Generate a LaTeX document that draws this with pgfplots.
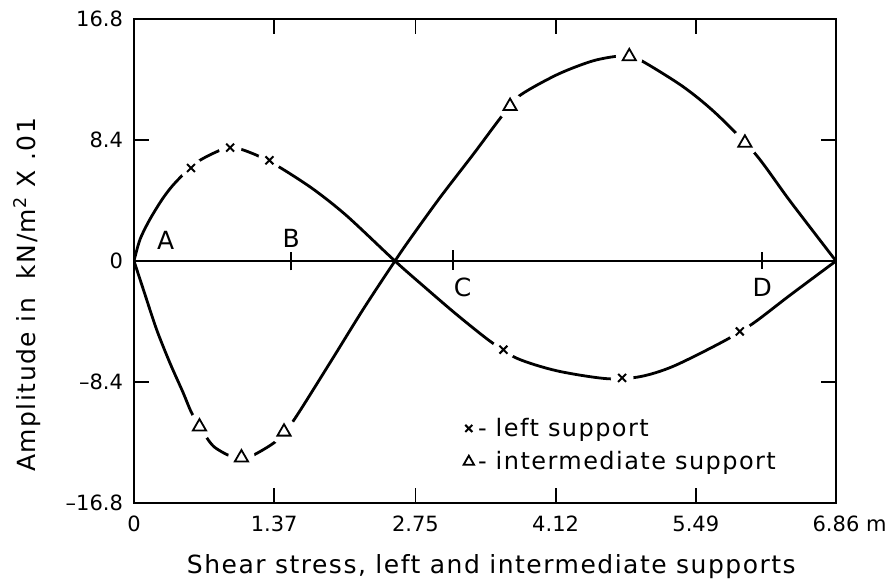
\documentclass[border=0pt]{standalone}
\usepackage{fontspec}
\setmainfont{DejaVu Sans}
\newfontfamily\spaced{DejaVu Sans}[LetterSpace=6]
\usepackage{pgfplots}
\pgfplotsset{compat=1.18}

\newcommand\tickfont{\fontsize{10.5}{12}\selectfont}
\newcommand\lblfont{\spaced\fontsize{12.5}{14}\selectfont}
\newcommand\legfont{\spaced\fontsize{12}{14}\selectfont}

\begin{document}
\begin{tikzpicture}
\begin{axis}[
  scale only axis, width=351pt, height=242pt,
  xmin=0, xmax=6.86, ymin=-16.8, ymax=16.8,
  axis line style={line width=0.9pt},
  every tick/.style={black, line width=0.9pt},
  major tick length=7.5pt, tick align=inside,
  xtick={0,1.37,2.75,4.12,5.49,6.86},
  xticklabels={0,1.37,2.75,4.12,5.49,{6.86\rlap{\ m}}},
  ytick={-16.8,-8.4,0,8.4,16.8},
  yticklabels={--16.8,--8.4,0,8.4,16.8},
  ticklabel style={font=\tickfont},
  xticklabel style={yshift=-3pt},
  yticklabel style={xshift=-2pt},
  xlabel={Shear stress, left and intermediate supports},
  ylabel={Amplitude in\ \ kN/m\textsuperscript{2} X .01},
  xlabel style={at={(axis description cs:0.509,-0.132)}, anchor=center, font=\lblfont},
  ylabel style={at={(axis description cs:-0.152,0.43)}, anchor=center, font=\lblfont},
  legend style={draw=none, fill=none, at={(axis description cs:0.469,0.185)},
    anchor=north west, font=\legfont, row sep=2pt, inner sep=0pt,
    /tikz/every even column/.append style={column sep=1pt}},
  legend cell align=left,
]
% zero line with the support ticks
\addplot[black, line width=0.9pt, forget plot] coordinates {(0,0) (6.86,0)};
\addplot[black, line width=0.9pt, forget plot] coordinates {(1.535,-0.65) (1.535,0.65)};
\addplot[black, line width=0.9pt, forget plot] coordinates {(3.12,-0.6) (3.12,0.75)};
\addplot[black, line width=0.9pt, forget plot] coordinates {(6.135,-0.55) (6.135,0.65)};

% left support
\addplot[black, line width=1.4pt, smooth, forget plot] coordinates {
 (0,0) (0.059,1.5) (0.156,2.9) (0.287,4.4) (0.41,5.49) (0.61,6.83)
 (0.825,7.64) (0.94,7.87) (1.036,7.78) (1.215,7.29) (1.427,6.49)
 (1.753,4.98) (2.08,3.13) (2.55,0) (2.83,-1.75) (3.15,-3.7)
 (3.48,-5.57) (3.74,-6.75) (4.13,-7.62) (4.62,-8.17) (4.945,-8.03)
 (5.27,-7.31) (5.76,-5.58) (6.05,-4.33) (6.41,-2.38) (6.86,0)};
% intermediate support
\addplot[black, line width=1.4pt, smooth, forget plot] coordinates {
 (0,0) (0.091,-1.97) (0.22,-4.74) (0.35,-7.06) (0.48,-9.14) (0.56,-10.5)
 (0.65,-11.6) (0.775,-12.85) (0.94,-13.54) (1.05,-13.65) (1.15,-13.54)
 (1.39,-12.5) (1.557,-11.1) (1.916,-7.06) (2.24,-3.35) (2.55,0)
 (2.70,1.55) (2.99,4.4) (3.32,7.45) (3.58,9.92) (3.757,11.42)
 (4.13,12.92) (4.46,13.84) (4.685,14.18) (4.84,14.22) (4.98,13.82)
 (5.37,12.08) (5.69,10.22) (6.07,7.45) (6.41,4.17) (6.86,0)};

% gaps round the marks
\addplot[only marks, mark=*, mark size=5.5pt, mark options={draw=white, fill=white}, forget plot]
 coordinates {(0.557,6.45) (0.94,7.87) (1.323,6.99) (3.61,-6.16) (4.77,-8.12) (5.92,-4.89)};
\addplot[only marks, mark=*, mark size=6.5pt, mark options={draw=white, fill=white}, forget plot]
 coordinates {(0.64,-11.5) (1.05,-13.65) (1.466,-11.86) (3.675,10.75) (4.84,14.2) (5.97,8.2)};

\addplot[only marks, mark=x, mark size=2.8pt, mark options={black, line width=1pt},
  legend image code/.code={\draw[black, line width=0.9pt, only marks, mark=x, mark size=2.5pt] plot coordinates {(3pt,0pt)};}]
 coordinates {(0.557,6.45) (0.94,7.87) (1.323,6.99) (3.61,-6.16) (4.77,-8.12) (5.92,-4.89)};
\addlegendentry{- left support}
\addplot[only marks, mark=triangle, mark size=3.8pt, mark options={black, fill=white, line width=0.9pt},
  legend image code/.code={\draw[black, line width=0.8pt, only marks, mark=triangle, mark size=3pt] plot coordinates {(3pt,0pt)};}]
 coordinates {(0.64,-11.5) (1.05,-13.65) (1.466,-11.86) (3.675,10.75) (4.84,14.2) (5.97,8.2)};
\addlegendentry{- intermediate support}

\node[font=\lblfont] at (axis cs:0.31,1.46) {A};
\node[font=\lblfont] at (axis cs:1.535,1.6) {B};
\node[font=\lblfont] at (axis cs:3.21,-1.8) {C};
\node[font=\lblfont] at (axis cs:6.14,-1.8) {D};
\end{axis}
\pgfresetboundingbox
\path (-67pt,-39pt) rectangle (378.5pt,251.5pt);
\end{tikzpicture}
\end{document}
